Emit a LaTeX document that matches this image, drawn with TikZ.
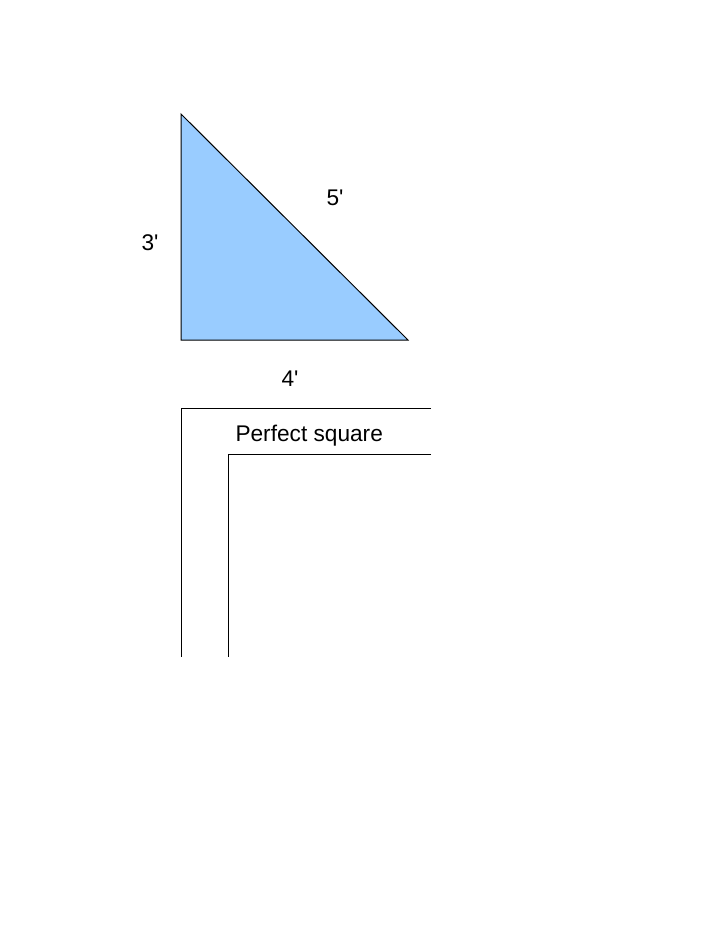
\documentclass[tikz,border=0pt]{standalone}
\usepackage{fontspec}
\setmainfont{Liberation Sans}

\begin{document}
\begin{tikzpicture}[x=0.75pt, y=-0.75pt, line width=0.75pt,
                    side label/.style={font=\fontsize{17}{20}\selectfont, inner sep=0pt},
                    tri fill/.style={fill={rgb,255:red,153;green,204;blue,255}, draw=black}]

  \useasboundingbox (0,0) rectangle (700,927);

  % triangle
  \coordinate (top) at (181,114);
  \coordinate (corner) at (181,340);
  \coordinate (right) at (408,340);
  \filldraw[tri fill] (top) -- (corner) -- (right) -- cycle;

  \node[side label] (three) at (150,243) {3\textquotesingle};
  \node[side label] (five) at (335,198) {5\textquotesingle};
  \node[side label] (four) at (290,379) {4\textquotesingle};

  % square corner
  \coordinate (outer top) at (431,408);
  \coordinate (outer corner) at (181,408);
  \coordinate (outer low) at (181,657);
  \coordinate (inner top) at (431,454);
  \coordinate (inner corner) at (228,454);
  \coordinate (inner low) at (228,657);

  \draw (outer top) -- (outer corner) -- (outer low);
  \draw (inner top) -- (inner corner) -- (inner low);

  \node[side label, anchor=west] (square) at (235,436) {Perfect square};

\end{tikzpicture}
\end{document}
